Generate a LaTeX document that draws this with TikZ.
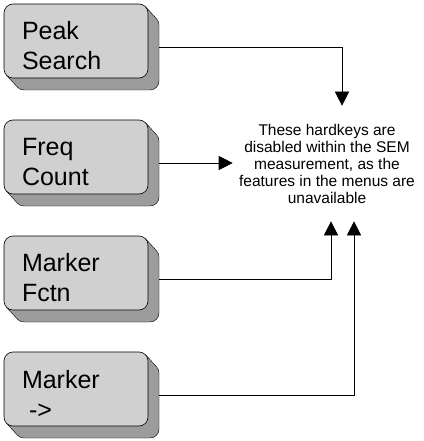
\documentclass[tikz,border=0pt]{standalone}
\usepackage{fontspec}
\setmainfont{Liberation Sans}
\usepackage{tikz}
\usetikzlibrary{arrows.meta, positioning, backgrounds}
\definecolor{keyface}{HTML}{D0D0D0}
\definecolor{keyshade}{HTML}{9C9C9C}

\begin{document}
\begin{tikzpicture}[x=1pt, y=1pt, line width=0.6pt, node distance=42pt,
    hardkey/.style={draw, fill=keyface, rounded corners=9pt, outer sep=0pt,
      minimum width=144pt, minimum height=74pt, text width=108pt, inner xsep=18pt,
      inner ysep=0pt, align=left, font=\fontsize{25}{30}\selectfont,
      execute at begin node=\rule{0pt}{28pt}},
    link/.style={-{Triangle[length=14pt, width=14pt]}}]
  \useasboundingbox (0,0) rectangle (423,-441);
  \node[hardkey] (peak) at (76,-41) {Peak\\Search};
  \node[hardkey, below=of peak] (freq) {Freq\\Count};
  \node[hardkey, below=of freq] (fctn) {Marker\\Fctn};
  \node[hardkey, below=of fctn] (marker) {Marker\\\hspace*{7pt}->};
  \node[minimum width=188pt, minimum height=115pt, inner sep=0pt, align=center,
    font=\fontsize{15.5}{17}\selectfont] (note) at (327,-163.5)
    {These hardkeys are\\disabled within the SEM\\measurement, as the\\features in the menus are\\unavailable};
  \begin{scope}[on background layer]
    \foreach \k in {peak,freq,fctn,marker}{
      \begin{scope}[shift={(\k.south west)}]
        \fill[keyshade, rounded corners=9pt] (11,-12) rectangle (155,62);
        \fill[keyshade] (141.4,71.4) -- (152.4,59.4) -- (13.6,-9.4) -- (2.6,2.6) -- cycle;
        \draw (141.4,71.4) -- (152.4,59.4) arc[start angle=45, end angle=0, radius=9]
          -- (155,-3) arc[start angle=0, end angle=-90, radius=9]
          -- (20,-12) arc[start angle=-90, end angle=-135, radius=9] -- (2.6,2.6);
        \coordinate (\k-out) at (155,31);
      \end{scope}}
  \end{scope}
  \draw[link] (peak-out) -| ([xshift=15pt]note.north);
  \draw[link] (freq-out) -- (freq-out -| note.west);
  \draw[link] (fctn-out) -| ([xshift=4pt]note.south);
  \draw[link] (marker-out) -| ([xshift=27pt]note.south);
\end{tikzpicture}
\end{document}
